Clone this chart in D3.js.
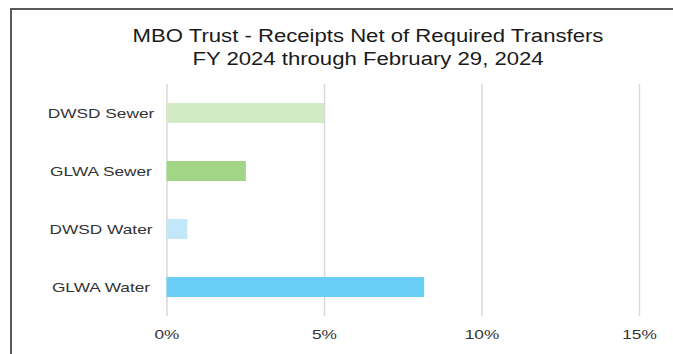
<!DOCTYPE html>
<html>
<head>
<meta charset="utf-8">
<script src="https://cdn.jsdelivr.net/npm/d3@7"></script>
<style>
  body { margin: 0; background: #fff; }
  svg { display: block; font-family: "Liberation Sans", Arial, sans-serif; }
</style>
</head>
<body>
<div id="chart"></div>
<script>
// data
const categories = ["DWSD Sewer", "GLWA Sewer", "DWSD Water", "GLWA Water"];
const values = [5.0, 2.52, 0.66, 8.18]; // percent
const barColors = ["#d3ebc4", "#a2d586", "#c1e7f8", "#6acdf5"];
const tickValues = [0, 5, 10, 15];
const titleLines = ["MBO Trust - Receipts Net of Required Transfers", "FY 2024 through February 29, 2024"];

const W = 673, H = 354;
const stretch = 1.28; // the source picture is stretched horizontally

const svg = d3.select("#chart")
    .append("svg")
    .attr("width", W)
    .attr("height", H);

// outer frame (only top and left edges are visible)
svg.append("path")
    .attr("d", `M11,${H} V9 H${W}`)
    .attr("fill", "none")
    .attr("stroke", "#5a5a5a")
    .attr("stroke-width", 2);

// title
svg.selectAll("text.title")
    .data(titleLines)
    .enter()
    .append("text")
    .attr("class", "title")
    .attr("transform", (d, i) => `translate(368, ${42 + i * 23}) scale(1.23,1)`)
    .attr("text-anchor", "middle")
    .style("font-size", "18px")
    .style("fill", "#1a1a1a")
    .text(d => d);

// scales
const x = d3.scaleLinear()
    .domain([0, 15])
    .range([166.5, 639]);

const y = d3.scaleBand()
    .domain(categories)
    .range([84, 316])
    .paddingInner(0.655)
    .paddingOuter(0.3275);

// gridlines + x tick labels
const xAxis = svg.append("g")
    .attr("transform", "translate(0, 316)")
    .call(d3.axisBottom(x)
        .tickValues(tickValues)
        .tickSize(-(316 - 84))
        .tickPadding(13)
        .tickFormat(d => d + "%"));

xAxis.select(".domain").remove();
xAxis.selectAll(".tick line")
    .attr("stroke", "#d9d9d9")
    .attr("stroke-width", 1.5);
xAxis.selectAll(".tick text")
    .attr("transform", `scale(${stretch},1)`)
    .style("font-size", "13.5px")
    .style("font-family", "Liberation Sans, Arial, sans-serif")
    .style("fill", "#333");

// bars
svg.selectAll("rect.bar")
    .data(values)
    .enter()
    .append("rect")
    .attr("class", "bar")
    .attr("x", x(0))
    .attr("y", (d, i) => y(categories[i]))
    .attr("width", d => x(d) - x(0))
    .attr("height", y.bandwidth())
    .attr("fill", (d, i) => barColors[i]);

// category labels
svg.selectAll("text.cat")
    .data(categories)
    .enter()
    .append("text")
    .attr("class", "cat")
    .attr("transform", d => `translate(101, ${y(d) + y.bandwidth() / 2}) scale(${stretch},1)`)
    .attr("text-anchor", "middle")
    .attr("dy", "0.35em")
    .style("font-size", "13.5px")
    .style("fill", "#333")
    .text(d => d);
</script>
</body>
</html>
